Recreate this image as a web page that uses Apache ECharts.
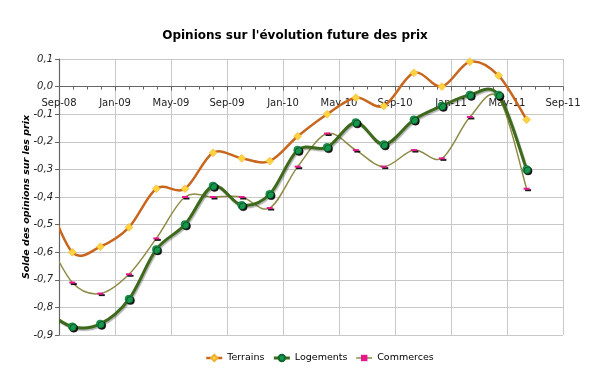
<!DOCTYPE html>
<html>
<head>
<meta charset="utf-8">
<script src="https://cdn.jsdelivr.net/npm/echarts@6/dist/echarts.min.js"></script>
<style>html,body{margin:0;padding:0;background:#fff}#c{width:590px;height:379px}</style>
</head>
<body>
<div id="c"></div>
<script>
// x positions: months after Sep-08 (first value lies just before the axis start and is clipped)
var months = [-1.05, 0.95, 2.95, 5.0, 6.95, 9.0, 11.0, 13.05, 15.05, 17.05, 19.15, 21.2, 23.2, 25.35, 27.35, 29.35, 31.4, 33.4];
var terrains  = [-0.38, -0.60, -0.58, -0.51, -0.37, -0.37, -0.24, -0.26, -0.27, -0.18, -0.10, -0.04, -0.07, 0.05, 0.00, 0.09, 0.04, -0.12];
var logements = [-0.81, -0.87, -0.86, -0.77, -0.59, -0.50, -0.36, -0.43, -0.39, -0.23, -0.22, -0.13, -0.21, -0.12, -0.07, -0.03, -0.03, -0.30];
var commerces = [-0.53, -0.71, -0.75, -0.68, -0.55, -0.40, -0.40, -0.40, -0.44, -0.29, -0.17, -0.23, -0.29, -0.23, -0.26, -0.11, -0.04, -0.37];
var xTickLabels = ['Sep-08','Jan-09','May-09','Sep-09','Jan-10','May-10','Sep-10','Jan-11','May-11','Sep-11'];
var seriesNames = ['Terrains','Logements','Commerces'];
var title = "Opinions sur l'évolution future des prix";
var yName = 'Solde des opinions sur les prix';

var colors = {
  terrainsLine: '#c8661e', terrainsMark: '#ffd23f',
  logementsLine: '#3d6a1a', logementsMark: '#16984c',
  commercesLine: '#8f8a45', commercesMark: '#e8168a'
};

function pairs(ys){ return months.map(function(m,i){ return [m, ys[i]]; }); }

// Excel-like smoothed curve (Catmull-Rom style Bezier), positioned through the chart's own scales
function curveSeries(ys, color, width, z, shadow){
  return {
    type: 'custom', silent: true, clip: true, z: z,
    data: [[0, 0]],
    renderItem: function(params, api){
      var p = months.map(function(m,i){ return api.coord([m, ys[i]]); });
      var n = p.length, f = 1/6;
      var d = 'M' + p[0][0] + ' ' + p[0][1];
      for (var i = 0; i < n - 1; i++) {
        var p0 = p[Math.max(i-1,0)], p1 = p[i], p2 = p[i+1], p3 = p[Math.min(i+2,n-1)];
        var c1x = p1[0] + (p2[0]-p0[0])*f, c1y = p1[1] + (p2[1]-p0[1])*f;
        var c2x = p2[0] - (p3[0]-p1[0])*f, c2y = p2[1] - (p3[1]-p1[1])*f;
        d += ' C' + c1x + ' ' + c1y + ' ' + c2x + ' ' + c2y + ' ' + p2[0] + ' ' + p2[1];
      }
      var cs = params.coordSys;
      var style = { fill: null, stroke: color, lineWidth: width, lineJoin: 'round', lineCap: 'round' };
      if (shadow) { style.shadowColor = 'rgba(0,0,0,0.3)'; style.shadowOffsetX = 1; style.shadowOffsetY = 1.5; style.shadowBlur = 1; }
      return {
        type: 'path',
        shape: { pathData: d },
        style: style,
        clipPath: { type: 'rect', shape: { x: cs.x, y: cs.y, width: cs.width, height: cs.height } }
      };
    }
  };
}

var font = 'DejaVu Sans';
var chart = echarts.init(document.getElementById('c'));
chart.setOption({
  animation: false,
  backgroundColor: '#fff',
  title: {
    text: title, left: 'center', top: 25,
    textStyle: { fontFamily: font, fontSize: 12, fontWeight: 'bold', color: '#000' }
  },
  legend: {
    top: 348, left: 200, itemWidth: 16, itemHeight: 8, itemGap: 8,
    textStyle: { fontFamily: font, fontSize: 9.5, color: '#000' },
    data: [
      { name: seriesNames[0], lineStyle: { color: colors.terrainsLine, width: 2.5 } },
      { name: seriesNames[1], lineStyle: { color: colors.logementsLine, width: 3 } },
      { name: seriesNames[2], lineStyle: { color: colors.commercesLine, width: 1.5 } }
    ]
  },
  grid: { left: 59, right: 27, top: 59, bottom: 44 },
  xAxis: {
    type: 'value', min: 0, max: 36, interval: 4,
    offset: -248.4,
    axisLine: { onZero: false, lineStyle: { color: '#666', width: 1.2 } },
    axisTick: { show: true, length: 4, lineStyle: { color: '#666' } },
    minorTick: { show: true, splitNumber: 4, length: 3, lineStyle: { color: '#666' } },
    splitLine: { show: true, lineStyle: { color: '#c8c8c8', width: 1 } },
    axisLabel: {
      fontFamily: font, fontSize: 10, color: '#222', margin: 12,
      formatter: function(v){ return xTickLabels[Math.round(v/4)] || ''; }
    }
  },
  yAxis: {
    type: 'value', min: -0.9, max: 0.1, interval: 0.1,
    name: yName, nameLocation: 'middle', nameGap: 27, nameRotate: 90, nameMoveOverlap: false,
    nameTextStyle: { fontFamily: font, fontSize: 9.5, fontWeight: 'bold', fontStyle: 'italic', color: '#000' },
    axisLine: { show: true, lineStyle: { color: '#666', width: 1.2 } },
    axisTick: { show: true, length: 4, lineStyle: { color: '#666' } },
    splitLine: { show: true, lineStyle: { color: '#c8c8c8', width: 1 } },
    axisLabel: {
      fontFamily: font, fontSize: 10, fontStyle: 'italic', color: '#222', margin: 6,
      formatter: function(v){ var r = Math.round(v*10)/10; if (Math.abs(r) < 1e-9) r = 0; return r.toFixed(1).replace('.', ','); }
    }
  },
  series: [
    curveSeries(terrains, colors.terrainsLine, 2.5, 2, false),
    curveSeries(logements, colors.logementsLine, 3, 3, true),
    curveSeries(commerces, colors.commercesLine, 1.5, 1, false),
    {
      name: seriesNames[0], type: 'line', data: pairs(terrains), clip: true,
      symbol: 'diamond', symbolSize: 8, showSymbol: true,
      lineStyle: { color: colors.terrainsLine, width: 0 },
      itemStyle: { color: colors.terrainsMark, borderColor: '#f0b030', borderWidth: 0.5 },
      z: 6
    },
    {
      name: seriesNames[1], type: 'line', data: pairs(logements), clip: true,
      symbol: 'circle', symbolSize: 8,
      lineStyle: { color: colors.logementsLine, width: 0 },
      itemStyle: { color: colors.logementsMark, borderColor: '#0c6a30', borderWidth: 0.5, shadowColor: 'rgba(0,0,0,0.9)', shadowOffsetX: 1.5, shadowOffsetY: 1.5, shadowBlur: 0 },
      z: 7
    },
    {
      name: seriesNames[2], type: 'line', data: pairs(commerces), clip: true,
      symbol: 'rect', symbolSize: [6, 2],
      lineStyle: { color: colors.commercesLine, width: 0 },
      itemStyle: { color: colors.commercesMark, shadowColor: 'rgba(0,0,0,0.9)', shadowOffsetX: 1.5, shadowOffsetY: 1.5, shadowBlur: 0 },
      z: 5
    }
  ]
});
</script>
</body>
</html>
